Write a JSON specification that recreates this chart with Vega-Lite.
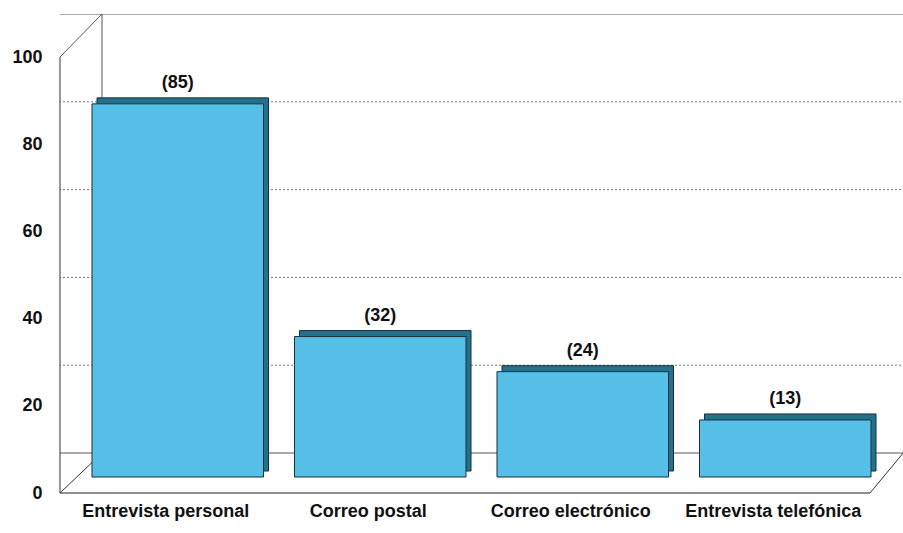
{
  "$schema": "https://vega.github.io/schema/vega-lite/v6.json",
  "width": 843,
  "height": 479,
  "autosize": {"type": "none"},
  "padding": {"left": 60, "top": 14, "right": 0, "bottom": 40},
  "background": "white",
  "config": {"view": {"stroke": null}, "font": "Liberation Sans"},
  "datasets": {
    "bars": [
      {"medio": "Entrevista personal", "n": 85, "label": "(85)"},
      {"medio": "Correo postal", "n": 32, "label": "(32)"},
      {"medio": "Correo electrónico", "n": 24, "label": "(24)"},
      {"medio": "Entrevista telefónica", "n": 13, "label": "(13)"}
    ],
    "grid": [{"v": 80}, {"v": 60}, {"v": 40}, {"v": 20}],
    "edges": [{"v": 100}, {"v": 0}],
    "one": [{"k": 1}]
  },
  "data": {"name": "bars"},
  "layer": [
    {
      "data": {"name": "grid"},
      "mark": {"type": "rule", "color": "#777777", "strokeDash": [2, 2], "strokeWidth": 1, "xOffset": 42, "clip": true},
      "encoding": {
        "y": {"field": "v", "type": "quantitative", "scale": {"domain": [-9.11, 100]}, "axis": null}
      }
    },
    {
      "data": {"name": "edges"},
      "mark": {"type": "rule", "color": "#555555", "strokeWidth": 1, "xOffset": 42, "clip": true},
      "encoding": {
        "y": {"field": "v", "type": "quantitative", "scale": {"domain": [-9.11, 100]}, "axis": null}
      }
    },
    {
      "data": {"name": "one"},
      "mark": {"type": "rule", "color": "#555555", "strokeWidth": 1, "xOffset": 10},
      "encoding": {
        "x": {"datum": "Entrevista personal", "type": "nominal", "bandPosition": 0},
        "y": {"datum": 0, "type": "quantitative", "scale": {"domain": [-9.11, 100]}, "axis": null},
        "y2": {"datum": 100}
      }
    },
    {
      "data": {"name": "one"},
      "mark": {"type": "rule", "color": "#333333", "strokeWidth": 1, "xOffset": -32},
      "encoding": {
        "x": {"datum": "Entrevista personal", "type": "nominal", "bandPosition": 0},
        "y": {
          "datum": 0, "type": "quantitative",
          "scale": {"domain": [0, 109.87], "nice": false, "zero": false},
          "axis": {
            "values": [0, 20, 40, 60, 80, 100],
            "title": null, "domain": false, "ticks": false, "grid": false,
            "labelPadding": 18, "labelFontSize": 18, "labelFontWeight": "bold",
            "labelColor": "#111111", "labelFont": "Liberation Sans"
          }
        },
        "y2": {"datum": 100}
      }
    },
    {
      "data": {"name": "one"},
      "mark": {"type": "rule", "color": "#333333", "strokeWidth": 1, "xOffset": -32, "x2Offset": -75.75, "y2Offset": -40},
      "encoding": {
        "x": {"datum": "Entrevista personal", "type": "nominal", "bandPosition": 0},
        "x2": {"datum": "Entrevista personal"},
        "y": {"datum": 0, "type": "quantitative", "scale": {"domain": [0, 109.87], "nice": false, "zero": false}, "axis": null},
        "y2": {"datum": 0}
      }
    },
    {
      "data": {"name": "one"},
      "mark": {"type": "rule", "color": "#555555", "strokeWidth": 1, "xOffset": -32, "x2Offset": -75.75, "y2Offset": -43},
      "encoding": {
        "x": {"datum": "Entrevista personal", "type": "nominal", "bandPosition": 0},
        "x2": {"datum": "Entrevista personal"},
        "y": {"datum": 100, "type": "quantitative", "scale": {"domain": [0, 109.87], "nice": false, "zero": false}, "axis": null},
        "y2": {"datum": 100}
      }
    },
    {
      "data": {"name": "one"},
      "mark": {"type": "rule", "color": "#222222", "strokeWidth": 1, "xOffset": -32, "x2Offset": 85},
      "encoding": {
        "x": {"datum": "Entrevista personal", "type": "nominal", "bandPosition": 0},
        "x2": {"datum": "Entrevista telefónica"},
        "y": {"datum": 0, "type": "quantitative", "scale": {"domain": [0, 109.87], "nice": false, "zero": false}, "axis": null}
      }
    },
    {
      "data": {"name": "one"},
      "mark": {"type": "rule", "color": "#333333", "strokeWidth": 1, "xOffset": 170.5, "x2Offset": 118, "y2Offset": -40},
      "encoding": {
        "x": {"datum": "Entrevista telefónica", "type": "nominal", "bandPosition": 0},
        "x2": {"datum": "Entrevista telefónica"},
        "y": {"datum": 0, "type": "quantitative", "scale": {"domain": [0, 109.87], "nice": false, "zero": false}, "axis": null},
        "y2": {"datum": 0}
      }
    },
    {
      "mark": {"type": "bar", "color": "#25708a", "stroke": "#16323c", "strokeWidth": 1, "xOffset": 5, "yOffset": -6, "y2Offset": -6},
      "encoding": {
        "x": {"field": "medio", "type": "nominal", "sort": null},
        "y": {"field": "n", "type": "quantitative", "scale": {"domain": [-3.64, 105.47], "nice": false, "zero": false}, "axis": null},
        "y2": {"datum": 0}
      }
    },
    {
      "mark": {"type": "bar", "color": "#55bfe7", "stroke": "#16323c", "strokeWidth": 1},
      "encoding": {
        "x": {
          "field": "medio", "type": "nominal", "sort": null,
          "scale": {
            "domain": ["Entrevista personal", "Correo postal", "Correo electrónico", "Entrevista telefónica"],
            "paddingInner": 0.153, "paddingOuter": 0.158
          },
          "axis": {
            "title": null, "labelAngle": 0, "labelAlign": "center", "ticks": false, "domain": false,
            "labelPadding": 18, "labelOffset": -12, "labelFontSize": 18, "labelFontWeight": "bold",
            "labelColor": "#111111", "labelFont": "Liberation Sans", "labelLimit": 0
          }
        },
        "y": {"field": "n", "type": "quantitative", "scale": {"domain": [-3.64, 105.47], "nice": false, "zero": false}, "axis": null},
        "y2": {"datum": 0}
      }
    },
    {
      "mark": {"type": "text", "fontSize": 18, "fontWeight": "bold", "color": "#111111", "baseline": "middle", "dy": -21, "font": "Liberation Sans"},
      "encoding": {
        "x": {"field": "medio", "type": "nominal", "sort": null},
        "y": {"field": "n", "type": "quantitative", "scale": {"domain": [-3.64, 105.47], "nice": false, "zero": false}, "axis": null},
        "text": {"field": "label"}
      }
    }
  ],
  "resolve": {"scale": {"y": "independent"}, "axis": {"y": "independent"}}
}
